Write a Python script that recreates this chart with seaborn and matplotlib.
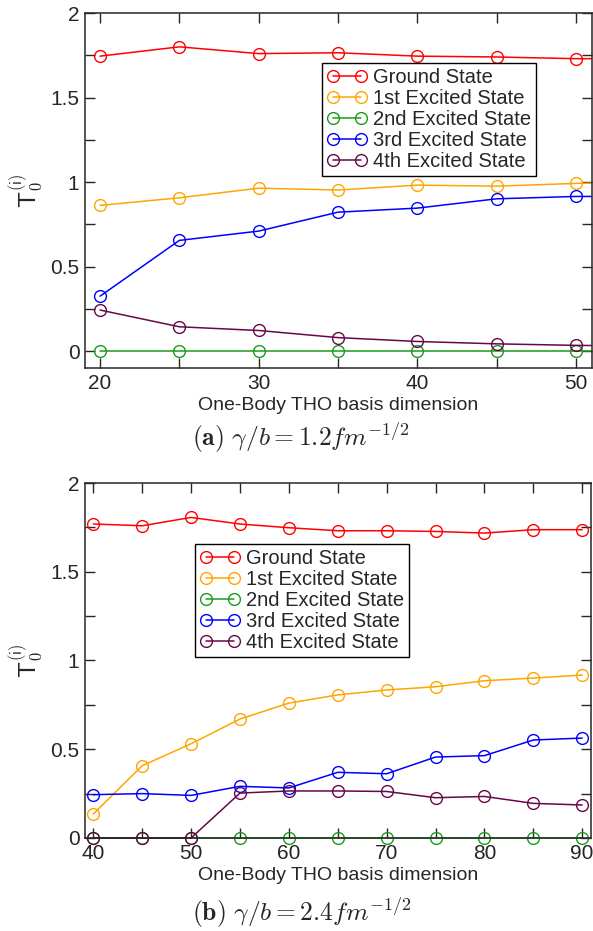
import numpy as np
import pandas as pd
import matplotlib
matplotlib.use("Agg")
import matplotlib.pyplot as plt
import seaborn as sns
from matplotlib.ticker import MultipleLocator

# panel (a): gamma/b = 1.2
dim_a = [20, 25, 30, 35, 40, 45, 50, 55]
ground_a = [1.745, 1.80, 1.76, 1.765, 1.745, 1.74, 1.73, 1.73]
first_a = [0.862, 0.907, 0.964, 0.953, 0.982, 0.976, 0.992, 1.0]
second_a = [0, 0, 0, 0, 0, 0, 0, 0]
third_a = [0.325, 0.655, 0.71, 0.822, 0.846, 0.901, 0.915, 0.915]
fourth_a = [0.243, 0.144, 0.122, 0.08, 0.057, 0.043, 0.034, 0.03]

# panel (b): gamma/b = 2.4
dim_b = [40, 45, 50, 55, 60, 65, 70, 75, 80, 85, 90]
ground_b = [1.769, 1.759, 1.806, 1.769, 1.748, 1.731, 1.731, 1.727, 1.718, 1.737, 1.737]
first_b = [0.135, 0.407, 0.531, 0.670, 0.760, 0.806, 0.834, 0.852, 0.886, 0.901, 0.918]
second_b = [0, 0, 0, 0, 0, 0, 0, 0, 0, 0, 0]
third_b = [0.244, 0.250, 0.240, 0.291, 0.282, 0.370, 0.362, 0.456, 0.464, 0.552, 0.563]
fourth_b = [0, 0, 0, 0.253, 0.265, 0.265, 0.262, 0.227, 0.234, 0.195, 0.186]

labels = ["Ground State", "1st Excited State", "2nd Excited State",
          "3rd Excited State", "4th Excited State"]
colors = ["#ff0000", "#ffa500", "#1a9a1a", "#0000ff", "#670748"]

sns.set_style("ticks")
plt.rcParams['font.family'] = ['Liberation Sans', 'DejaVu Sans']
plt.rcParams['mathtext.fontset'] = 'cm'


def draw_panel(ax, dims, series, xlim, ylim, xmajor, legend_anchor, clip):
    for vals, lab, col in zip(series, labels, colors):
        sns.lineplot(x=dims, y=vals, ax=ax, color=col, label=lab, marker='o',
                     markersize=8.5, mfc='none', mec=col, mew=1.0, lw=1.1,
                     clip_on=clip, legend=False)
    ax.set_xlim(*xlim)
    ax.set_ylim(*ylim)
    ax.xaxis.set_major_locator(MultipleLocator(xmajor))
    ax.xaxis.set_minor_locator(MultipleLocator(xmajor / 2))
    ax.yaxis.set_major_locator(MultipleLocator(0.5))
    ax.yaxis.set_minor_locator(MultipleLocator(0.25))
    ax.yaxis.set_major_formatter(plt.FuncFormatter(lambda v, p: f"{v:g}"))
    ax.tick_params(which='both', direction='in', top=True, right=True,
                   length=7, width=1, labelsize=15, pad=4)
    for sp in ax.spines.values():
        sp.set_linewidth(1.1)
    ax.set_xlabel("One-Body THO basis dimension", fontsize=14, labelpad=3)
    ax.set_ylabel(r"$\mathsf{T_0^{(i)}}$", fontsize=17, labelpad=4)
    leg = ax.legend(loc='upper left', bbox_to_anchor=legend_anchor, numpoints=2,
                    fontsize=14.5, labelspacing=0.1, handlelength=2.0,
                    handletextpad=0.3, borderpad=0.25, borderaxespad=0,
                    fancybox=False, framealpha=1, edgecolor='black')
    leg.get_frame().set_linewidth(1.0)


fig = plt.figure(figsize=(5.93, 9.31), dpi=100)
ax1 = fig.add_axes([0.1433, 0.6047, 0.8547, 0.3813])
ax2 = fig.add_axes([0.1433, 0.0999, 0.8533, 0.3813])

draw_panel(ax1, dim_a, [ground_a, first_a, second_a, third_a, fourth_a],
           (19.05, 51.0), (-0.1, 2), 10, (0.467, 0.859), True)
draw_panel(ax2, dim_b, [ground_b, first_b, second_b, third_b, fourth_b],
           (39.15, 90.9), (0, 2), 10, (0.217, 0.828), False)

fig.text(0.508, 0.530, r"$\mathbf{(a)}\ \gamma/b = 1.2fm^{-1/2}$",
         ha='center', va='center', fontsize=18.5)
fig.text(0.508, 0.019, r"$\mathbf{(b)}\ \gamma/b = 2.4fm^{-1/2}$",
         ha='center', va='center', fontsize=18.5)

fig.savefig("out.png", dpi=100)
